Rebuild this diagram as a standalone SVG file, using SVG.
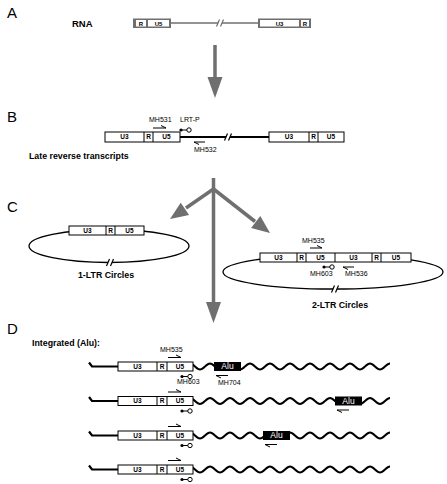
<svg xmlns="http://www.w3.org/2000/svg" xmlns:xlink="http://www.w3.org/1999/xlink" width="447" height="484" viewBox="0 0 447 484">
<style>
text{font-family:"Liberation Sans",Arial,sans-serif;fill:#000}
.pl{font-size:15px}
.bl{font-size:8.8px;font-weight:bold}
.pr{font-size:7px}
.sg{font-size:6.5px;font-weight:bold;text-anchor:middle}
.box{fill:#fff;stroke:#000;stroke-width:1}
.dv{stroke:#000;stroke-width:1}
.hp{fill:none;stroke:#000;stroke-width:1}
.thick{fill:none;stroke:#000;stroke-width:2.2}
.ell{fill:none;stroke:#000;stroke-width:1.3}
.big{stroke:#6f6f6f;stroke-width:3.5;fill:none}
.head{fill:#6f6f6f}
.alu{fill:#000}
.alut{font-size:8.5px;fill:#fff;text-anchor:middle}
</style>
<defs>
<g id="brk">
<polygon points="-3.5,3.5 -0.5,-3.5 3.5,-3.5 0.5,3.5" fill="#fff" stroke="none"/>
<line x1="-3.5" y1="3.5" x2="-0.5" y2="-3.5" stroke-width="1.2"/>
<line x1="0.5" y1="3.5" x2="3.5" y2="-3.5" stroke-width="1.2"/>
</g>
<path id="wave" fill="none" stroke="#000" stroke-width="2" d="M190,-3 C193.64,-3 196.36,3 200,3 S206.36,-3 210,-3 S216.36,3 220,3 S226.36,-3 230,-3 S236.36,3 240,3 S246.36,-3 250,-3 S256.36,3 260,3 S266.36,-3 270,-3 S276.36,3 280,3 S286.36,-3 290,-3 S296.36,3 300,3 S306.36,-3 310,-3 S316.36,3 320,3 S326.36,-3 330,-3 S336.36,3 340,3 S346.36,-3 350,-3 S356.36,3 360,3 S366.36,-3 370,-3 S376.36,3 380,3 S386.36,-3 390,-3"/>
<g id="ltrD">
<path class="thick" d="M118,0 L92,0 L89,-4"/>
<rect class="box" x="118" y="-4.5" width="75" height="9"/>
<line class="dv" x1="157" y1="-4.5" x2="157" y2="4.5"/>
<line class="dv" x1="167" y1="-4.5" x2="167" y2="4.5"/>
<text class="sg" x="137.5" y="2.3">U3</text>
<text class="sg" x="162" y="2.3">R</text>
<text class="sg" x="180" y="2.3">U5</text>
<path class="hp" d="M168,-9 H181 L176,-11.5"/>
<line x1="182" y1="10" x2="188" y2="10" stroke="#000" stroke-width="1"/>
<circle cx="182" cy="10" r="1.6" fill="#000"/>
<circle cx="190" cy="10" r="2.2" fill="#fff" stroke="#000" stroke-width="1"/>
</g>
</defs>

<!-- Panel labels -->
<text class="pl" x="7" y="18">A</text>
<text class="pl" x="7" y="122">B</text>
<text class="pl" x="7" y="212">C</text>
<text class="pl" x="7" y="334">D</text>

<!-- Panel A: RNA -->
<g id="rna">
<text class="bl" x="72" y="27" style="font-size:9.5px">RNA</text>
<line x1="171" y1="23" x2="258" y2="23" stroke="#6f6f6f" stroke-width="1.5"/>
<use xlink:href="#brk" x="220" y="23" stroke="#6f6f6f"/>
<rect x="133" y="18.5" width="38" height="9.5" fill="#6f6f6f"/>
<rect x="136" y="20" width="10" height="6.5" fill="#fff"/>
<rect x="148" y="20" width="21" height="6.5" fill="#fff"/>
<text class="sg" x="141" y="25.6" style="font-size:6px">R</text>
<text class="sg" x="158.5" y="25.6" style="font-size:6px">U5</text>
<rect x="258" y="18.5" width="53" height="9.5" fill="#6f6f6f"/>
<rect x="260" y="20" width="39" height="6.5" fill="#fff"/>
<rect x="301" y="20" width="8" height="6.5" fill="#fff"/>
<text class="sg" x="279.5" y="25.6" style="font-size:6px">U3</text>
<text class="sg" x="305" y="25.6" style="font-size:6px">R</text>
</g>

<!-- Panel B: Late reverse transcripts -->
<g id="lrt">
<line class="thick" x1="180" y1="137" x2="269" y2="137"/>
<use xlink:href="#brk" x="228" y="137" stroke="#000"/>
<rect class="box" x="105" y="132" width="75" height="10"/>
<line class="dv" x1="144" y1="132" x2="144" y2="142"/>
<line class="dv" x1="153" y1="132" x2="153" y2="142"/>
<text class="sg" x="124.5" y="139.3">U3</text>
<text class="sg" x="148.5" y="139.3">R</text>
<text class="sg" x="166.5" y="139.3">U5</text>
<rect class="box" x="269" y="132" width="75" height="10"/>
<line class="dv" x1="309" y1="132" x2="309" y2="142"/>
<line class="dv" x1="318" y1="132" x2="318" y2="142"/>
<text class="sg" x="289" y="139.3">U3</text>
<text class="sg" x="313.5" y="139.3">R</text>
<text class="sg" x="331" y="139.3">U5</text>
<text class="pr" x="149" y="122">MH531</text>
<text class="pr" x="180" y="122">LRT-P</text>
<path class="hp" d="M153,128 H166 L161,125.5"/>
<line x1="181" y1="130" x2="187" y2="130" stroke="#000" stroke-width="1"/>
<circle cx="181" cy="130" r="1.6" fill="#000"/>
<circle cx="189" cy="130" r="2.2" fill="#fff" stroke="#000" stroke-width="1"/>
<path class="hp" d="M205,142 H194 L199,144.5"/>
<text class="pr" x="194" y="152">MH532</text>
<text class="bl" x="29" y="159">Late reverse transcripts</text>
</g>

<!-- Connectors: big gray arrows -->
<g id="connectors">
<line class="big" x1="215" y1="45" x2="215" y2="79"/>
<polygon class="head" points="207.5,77 222.5,77 215,98"/>
<line class="big" x1="213.5" y1="178" x2="213.5" y2="304"/>
<polygon class="head" points="206,302 221,302 213.5,323"/>
<line class="big" x1="213.5" y1="189" x2="186" y2="208"/>
<polygon class="head" points="189.1,215.1 180.7,202.7 170,219"/>
<line class="big" x1="213.5" y1="189" x2="255" y2="221.5"/>
<polygon class="head" points="260.3,216.1 251.1,227.9 270,233"/>
</g>

<!-- Panel C: 1-LTR circles -->
<g id="ltr1">
<ellipse class="ell" cx="109" cy="246" rx="80" ry="16.5"/>
<use xlink:href="#brk" x="110" y="262.5" stroke="#000"/>
<rect class="box" x="69" y="226" width="75" height="9"/>
<line class="dv" x1="106" y1="226" x2="106" y2="235"/>
<line class="dv" x1="115" y1="226" x2="115" y2="235"/>
<text class="sg" x="87.5" y="232.8">U3</text>
<text class="sg" x="110.5" y="232.8">R</text>
<text class="sg" x="129.5" y="232.8">U5</text>
<text class="bl" x="106" y="278" text-anchor="middle">1-LTR Circles</text>
</g>

<!-- Panel C: 2-LTR circles -->
<g id="ltr2">
<ellipse class="ell" cx="333" cy="272" rx="110" ry="17"/>
<use xlink:href="#brk" x="335" y="289" stroke="#000"/>
<rect class="box" x="260" y="253" width="151" height="9"/>
<line class="dv" x1="297" y1="253" x2="297" y2="262"/>
<line class="dv" x1="306" y1="253" x2="306" y2="262"/>
<line class="dv" x1="335" y1="253" x2="335" y2="262"/>
<line class="dv" x1="372" y1="253" x2="372" y2="262"/>
<line class="dv" x1="381" y1="253" x2="381" y2="262"/>
<text class="sg" x="278.5" y="259.8">U3</text>
<text class="sg" x="301.5" y="259.8">R</text>
<text class="sg" x="320.5" y="259.8">U5</text>
<text class="sg" x="353.5" y="259.8">U3</text>
<text class="sg" x="376.5" y="259.8">R</text>
<text class="sg" x="396" y="259.8">U5</text>
<text class="pr" x="302" y="243">MH535</text>
<path class="hp" d="M310,248 H322 L317,245.5"/>
<line x1="324" y1="267" x2="330" y2="267" stroke="#000" stroke-width="1"/>
<circle cx="324" cy="267" r="1.6" fill="#000"/>
<circle cx="332" cy="267" r="2.2" fill="#fff" stroke="#000" stroke-width="1"/>
<path class="hp" d="M354,267 H343 L348,269.5"/>
<text class="pr" x="310" y="275.5">MH603</text>
<text class="pr" x="345" y="275.5">MH536</text>
<text class="bl" x="340" y="308" text-anchor="middle">2-LTR Circles</text>
</g>

<!-- Panel D -->
<text class="bl" x="32" y="346">Integrated (Alu):</text>

<g id="int1" transform="translate(0,366.5)">
<use xlink:href="#wave"/>
<use xlink:href="#ltrD"/>
<rect class="alu" x="214" y="-4.5" width="27" height="9"/>
<text class="alut" x="227.5" y="2.8">Alu</text>
<path class="hp" d="M228,9 H216 L221,11.5"/>
<text class="pr" x="160" y="-14.5">MH535</text>
<text class="pr" x="177" y="17.5">MH603</text>
<text class="pr" x="218" y="18.5">MH704</text>
</g>

<g id="int2" transform="translate(0,401)">
<use xlink:href="#wave"/>
<use xlink:href="#ltrD"/>
<rect class="alu" x="335" y="-4.5" width="27" height="9"/>
<text class="alut" x="348.5" y="2.8">Alu</text>
<path class="hp" d="M349,9 H337 L342,11.5"/>
</g>

<g id="int3" transform="translate(0,435.5)">
<use xlink:href="#wave"/>
<use xlink:href="#ltrD"/>
<rect class="alu" x="263" y="-4.5" width="27" height="9"/>
<text class="alut" x="276.5" y="2.8">Alu</text>
<path class="hp" d="M277,9 H265 L270,11.5"/>
</g>

<g id="int4" transform="translate(0,469.5)">
<use xlink:href="#wave"/>
<use xlink:href="#ltrD"/>
</g>
</svg>
